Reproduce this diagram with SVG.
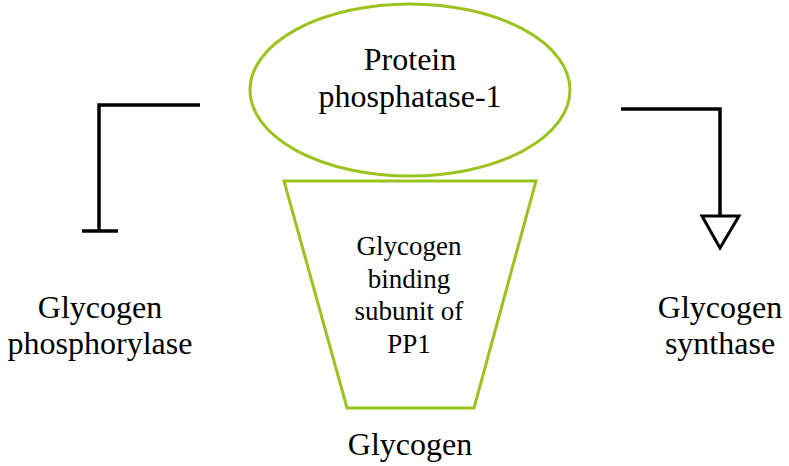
<svg xmlns="http://www.w3.org/2000/svg" width="789" height="466" viewBox="0 0 789 466">
<style>
.shape{fill:#fff;stroke:#9ac31f;stroke-width:3}
.line{fill:none;stroke:#000;stroke-width:3.5}
.big{font-size:32px}
.small{font-size:27px}
</style>
<rect width="789" height="466" fill="#fff"/>
<g id="connectors">
<polyline class="line" points="200,105 99,105 99,231"/>
<line class="line" x1="82" y1="231" x2="118" y2="231"/>
<polyline class="line" points="621,109 720,109 720,216"/>
<polygon points="702,216 739,216 720,248" fill="#fff" stroke="#000" stroke-width="3"/>
</g>
<g font-family="'Liberation Serif', 'Times New Roman', 'DejaVu Serif', serif" text-anchor="middle" fill="#000">
<g id="pp1">
<ellipse class="shape" cx="410" cy="90" rx="160" ry="86"/>
<text class="big" x="410" y="70">Protein</text>
<text class="big" x="410" y="107">phosphatase-1</text>
</g>
<g id="subunit">
<polygon class="shape" points="284,181 536,181 474,408 347,408"/>
<text class="small" x="409" y="255">Glycogen</text>
<text class="small" x="409" y="288">binding</text>
<text class="small" x="409" y="320">subunit of</text>
<text class="small" x="409" y="353">PP1</text>
</g>
<g id="glycogen">
<text class="big" x="410" y="455">Glycogen</text>
</g>
<g id="phosphorylase">
<text class="big" x="100" y="318">Glycogen</text>
<text class="big" x="100" y="354">phosphorylase</text>
</g>
<g id="synthase">
<text class="big" x="720" y="318">Glycogen</text>
<text class="big" x="720" y="354">synthase</text>
</g>
</g>
</svg>
